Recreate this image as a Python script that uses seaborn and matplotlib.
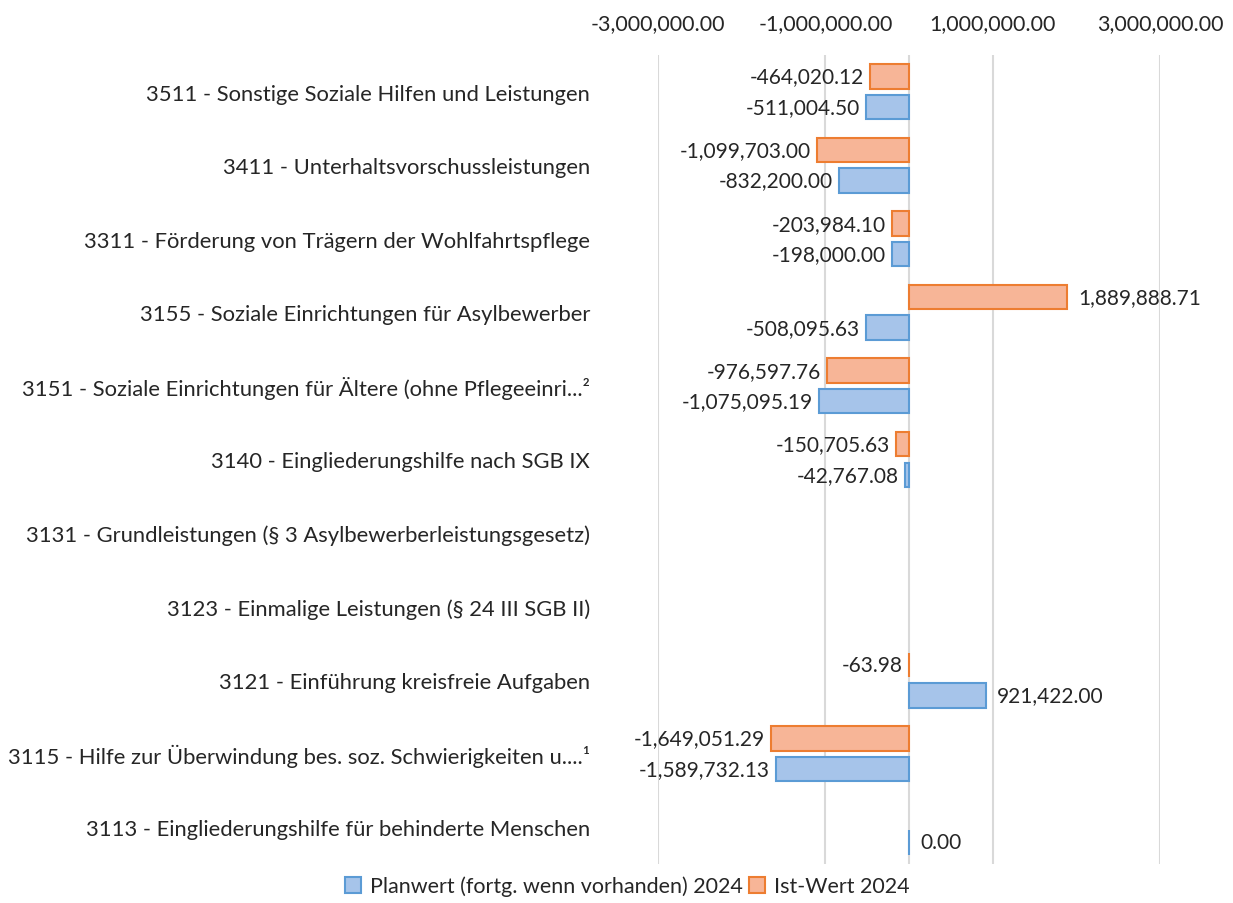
import numpy as np
import pandas as pd
import matplotlib
matplotlib.use("Agg")
import matplotlib.pyplot as plt
from matplotlib.patches import Patch
import seaborn as sns

# data ─────────────────────────────────────────────────────────────────────────
CATEGORIES = [
    "3511 - Sonstige Soziale Hilfen und Leistungen",
    "3411 - Unterhaltsvorschussleistungen",
    "3311 - Förderung von Trägern der Wohlfahrtspflege",
    "3155 - Soziale Einrichtungen für Asylbewerber",
    "3151 - Soziale Einrichtungen für Ältere (ohne Pflegeeinri...²",
    "3140 - Eingliederungshilfe nach SGB IX",
    "3131 - Grundleistungen (§ 3 Asylbewerberleistungsgesetz)",
    "3123 - Einmalige Leistungen (§ 24 III SGB II)",
    "3121 - Einführung kreisfreie Aufgaben",
    "3115 - Hilfe zur Überwindung bes. soz. Schwierigkeiten u....¹",
    "3113 - Eingliederungshilfe für behinderte Menschen",
]
PLAN = [-511004.50, -832200.00, -198000.00, -508095.63, -1075095.19,
        -42767.08, np.nan, np.nan, 921422.00, -1589732.13, 0.00]
IST = [-464020.12, -1099703.00, -203984.10, 1889888.71, -976597.76,
       -150705.63, np.nan, np.nan, -63.98, -1649051.29, np.nan]

PLAN_NAME = "Planwert (fortg. wenn vorhanden) 2024"
IST_NAME = "Ist-Wert 2024"
X_TICKS = [-3_000_000, -1_000_000, 1_000_000, 3_000_000]

BLUE_FILL, BLUE_EDGE = "#a6c4ea", "#5b9bd5"
ORANGE_FILL, ORANGE_EDGE = "#f7b597", "#ed7d31"

sns.set_theme(style="white")
plt.rcParams["font.family"] = ["Lato", "DejaVu Sans"]

df = pd.concat([
    pd.DataFrame({"cat": CATEGORIES, "serie": IST_NAME, "wert": IST}),
    pd.DataFrame({"cat": CATEGORIES, "serie": PLAN_NAME, "wert": PLAN}),
], ignore_index=True)

fig = plt.figure(figsize=(12.33, 9.04), dpi=100)
ax = fig.add_axes([658 / 1233, 1 - 865 / 904, (1160 - 658) / 1233, (865 - 56) / 904])

sns.barplot(data=df, x="wert", y="cat", hue="serie",
            hue_order=[IST_NAME, PLAN_NAME], order=CATEGORIES,
            palette=[ORANGE_FILL, BLUE_FILL], saturation=1, orient="h",
            width=0.83, gap=0.2, linewidth=1.5, legend=False, ax=ax, zorder=3)

# edge colours per series + data labels
for cont, edge in zip(ax.containers, [ORANGE_EDGE, BLUE_EDGE]):
    for p in cont.patches:
        p.set_edgecolor(edge)
        v = p.get_x() + p.get_width()
        yc = p.get_y() + p.get_height() / 2
        if v < 0:
            ax.text(v - 75000, yc, f"{v:,.2f}", ha="right", va="center", fontsize=15)
        else:
            ax.text(v + 130000, yc, f"{v:,.2f}", ha="left", va="center", fontsize=15)

ax.set_xlim(-3_000_000, 3_000_000)
ax.set_ylim(10.5, -0.5)
ax.set_xticks(X_TICKS)
ax.set_xticklabels([f"{t:,.2f}" for t in X_TICKS], fontsize=15.5)
ax.xaxis.tick_top()
ax.tick_params(axis="x", length=0, pad=16)
ax.tick_params(axis="y", length=0, pad=49, labelsize=15.8)
ax.grid(axis="x", color="#d9d9d9", linewidth=1.5, zorder=0)
ax.axvline(0, color="#d9d9d9", linewidth=1.5, zorder=1)
for s in ax.spines.values():
    s.set_visible(False)
ax.set_xlabel("")
ax.set_ylabel("")

handles = [Patch(facecolor=BLUE_FILL, edgecolor=BLUE_EDGE, linewidth=1.5, label=PLAN_NAME),
           Patch(facecolor=ORANGE_FILL, edgecolor=ORANGE_EDGE, linewidth=1.5, label=IST_NAME)]
fig.legend(handles=handles, loc="center", bbox_to_anchor=(627 / 1233, 1 - 887 / 904),
           ncol=2, frameon=False, fontsize=15.5, handlelength=0.75, handleheight=0.75,
           handletextpad=0.4, columnspacing=0.3)

fig.savefig("out.png", dpi=100)
